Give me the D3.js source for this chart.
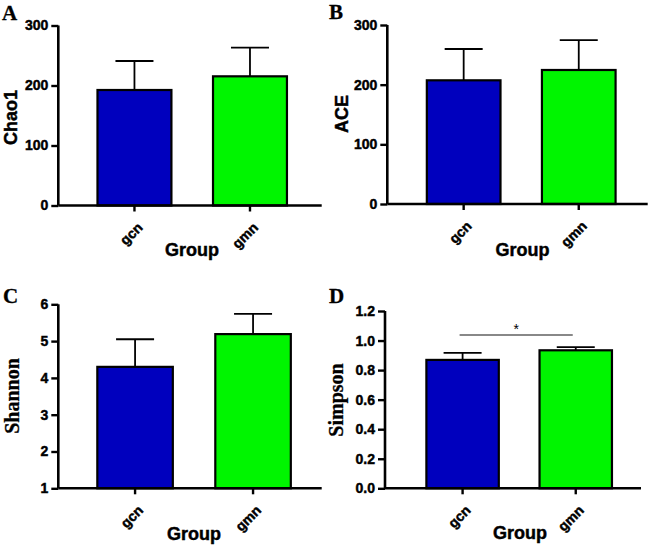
<!DOCTYPE html>
<html><head><meta charset="utf-8">
<script src="https://cdn.jsdelivr.net/npm/d3@7"></script>
<style>body{margin:0;background:#fff}svg{display:block}
.sans{font-family:"Liberation Sans",Arimo,Arial,sans-serif;font-weight:700;stroke:#000;stroke-width:0.45px}
.serif{font-family:"Liberation Serif",Tinos,"Times New Roman",serif;font-weight:700;stroke:#000;stroke-width:0.3px}
</style>
</head><body>
<script>
// ---- data ----
const groups = ["gcn", "gmn"];
const chao1Mean = [192.5, 215.3];
const chao1Sd = [48.3, 47.7];
const aceMean = [207.3, 224.6];
const aceSd = [52.5, 50.2];
const shannonMean = [4.30, 5.19];
const shannonSd = [0.75, 0.55];
const simpsonMean = [0.869, 0.934];
const simpsonSd = [0.047, 0.021];
const chao1Ticks = [0, 100, 200, 300];
const aceTicks = [0, 100, 200, 300];
const shannonTicks = [1, 2, 3, 4, 5, 6];
const simpsonTicks = [0.0, 0.2, 0.4, 0.6, 0.8, 1.0, 1.2];
const barColors = ["#0000BE", "#00F500"];

const svg = d3.select("body").append("svg").attr("width", 650).attr("height", 547);

const panels = [
  {letter:"A", lx:2, ly:20, ylabel:"Chao1", ycls:"sans", ysize:18, ylx:17, yly:117.5,
   mean:chao1Mean, sd:chao1Sd, ticks:chao1Ticks, fmt:d3.format("d"), domain:[0,300],
   ax:58.3, axEnd:321.7, yb:205.5, yt:25.5, band:[58.3,321.7], gx:192, gy:256},
  {letter:"B", lx:329, ly:19, ylabel:"ACE", ycls:"sans", ysize:18, ylx:348, yly:114,
   mean:aceMean, sd:aceSd, ticks:aceTicks, fmt:d3.format("d"), domain:[0,300],
   ax:387.3, axEnd:647.7, yb:204, yt:25, band:[387.8,650.2], gx:522.5, gy:256},
  {letter:"C", lx:3, ly:303, ylabel:"Shannon", ycls:"serif", ysize:20, ylx:19, yly:396,
   mean:shannonMean, sd:shannonSd, ticks:shannonTicks, fmt:d3.format("d"), domain:[1,6],
   ax:58.3, axEnd:321.7, yb:488.3, yt:304.3, band:[57.3,326.3], gx:194, gy:540,
   sig:null},
  {letter:"D", lx:329, ly:303, ylabel:"Simpson", ycls:"serif", ysize:20, ylx:343, yly:400,
   mean:simpsonMean, sd:simpsonSd, ticks:simpsonTicks, fmt:d3.format(".1f"), domain:[0,1.2],
   ax:385, axEnd:641, yb:488.3, yt:311, band:[388,646], gx:520, gy:539,
   sig:{y:1.037, label:"*"}}
];

panels.forEach(p => {
  const g = svg.append("g");
  const y = d3.scaleLinear().domain(p.domain).range([p.yb, p.yt]);
  const x = d3.scaleBand().domain(groups).range(p.band).paddingInner(0.36).paddingOuter(0.32).align(0.53);

  // bars
  g.selectAll("rect.bar").data(groups).join("rect")
    .attr("x", d => x(d)).attr("width", x.bandwidth())
    .attr("y", (d,i) => y(p.mean[i])).attr("height", (d,i) => y(p.domain[0]) - y(p.mean[i]))
    .attr("fill", (d,i) => barColors[i]).attr("stroke", "#000").attr("stroke-width", 2.2);

  // error bars
  groups.forEach((d,i) => {
    const cx = x(d) + x.bandwidth()/2;
    g.append("line").attr("x1", cx).attr("x2", cx)
      .attr("y1", y(p.mean[i])).attr("y2", y(p.mean[i] + p.sd[i]))
      .attr("stroke", "#000").attr("stroke-width", 1.8);
    g.append("line").attr("x1", cx - 19).attr("x2", cx + 19)
      .attr("y1", y(p.mean[i] + p.sd[i])).attr("y2", y(p.mean[i] + p.sd[i]))
      .attr("stroke", "#000").attr("stroke-width", 1.8);
  });

  // y axis
  const ya = g.append("g").attr("transform", `translate(${p.ax},0)`)
    .call(d3.axisLeft(y).tickValues(p.ticks).tickFormat(p.fmt).tickSize(7).tickPadding(3));
  ya.attr("font-family", null).attr("font-size", null);
  ya.select(".domain").attr("d", `M0,${p.yt}V${p.yb}`).attr("stroke-width", 2.6);
  ya.selectAll(".tick line").attr("stroke-width", 2.4);
  ya.selectAll(".tick text").attr("class", "sans").style("font-size", "14px").attr("fill", "#000");

  // x axis
  const xa = g.append("g").attr("transform", `translate(0,${p.yb})`)
    .call(d3.axisBottom(x).tickSize(6).tickSizeOuter(0));
  xa.attr("font-family", null).attr("font-size", null);
  xa.select(".domain").attr("d", `M${p.ax},0H${p.axEnd}`).attr("stroke-width", 2.6);
  xa.selectAll(".tick line").attr("stroke-width", 2.4);
  xa.selectAll(".tick text").attr("class", "sans").style("font-size", "14px").attr("fill", "#000")
    .attr("text-anchor", "end").attr("dy", "0").attr("y", 0)
    .attr("transform", "translate(9,23) rotate(-45)");

  // axis titles
  g.append("text").attr("class", "sans").attr("x", p.gx).attr("y", p.gy).attr("text-anchor", "middle")
    .style("font-size", "18px").text("Group");
  g.append("text").attr("class", p.ycls).attr("transform", `translate(${p.ylx},${p.yly}) rotate(-90)`)
    .attr("text-anchor", "middle").style("font-size", p.ysize + "px").text(p.ylabel);

  // panel letter
  g.append("text").attr("class", "serif").attr("x", p.lx).attr("y", p.ly)
    .style("font-size", "21px").text(p.letter);

  // significance
  if (p.sig) {
    const x1 = x(groups[0]) + x.bandwidth()/2 - 3, x2 = x(groups[1]) + x.bandwidth()/2 - 3;
    g.append("line").attr("x1", x1).attr("x2", x2).attr("y1", y(p.sig.y)).attr("y2", y(p.sig.y))
      .attr("stroke", "#888").attr("stroke-width", 2);
    g.append("text").attr("x", (x1 + x2)/2).attr("y", y(p.sig.y) - 1).attr("text-anchor", "middle")
      .style("font-family", "'Liberation Sans',Arial,sans-serif").style("font-size", "14px").text(p.sig.label);
  }
});
</script>
</body></html>
